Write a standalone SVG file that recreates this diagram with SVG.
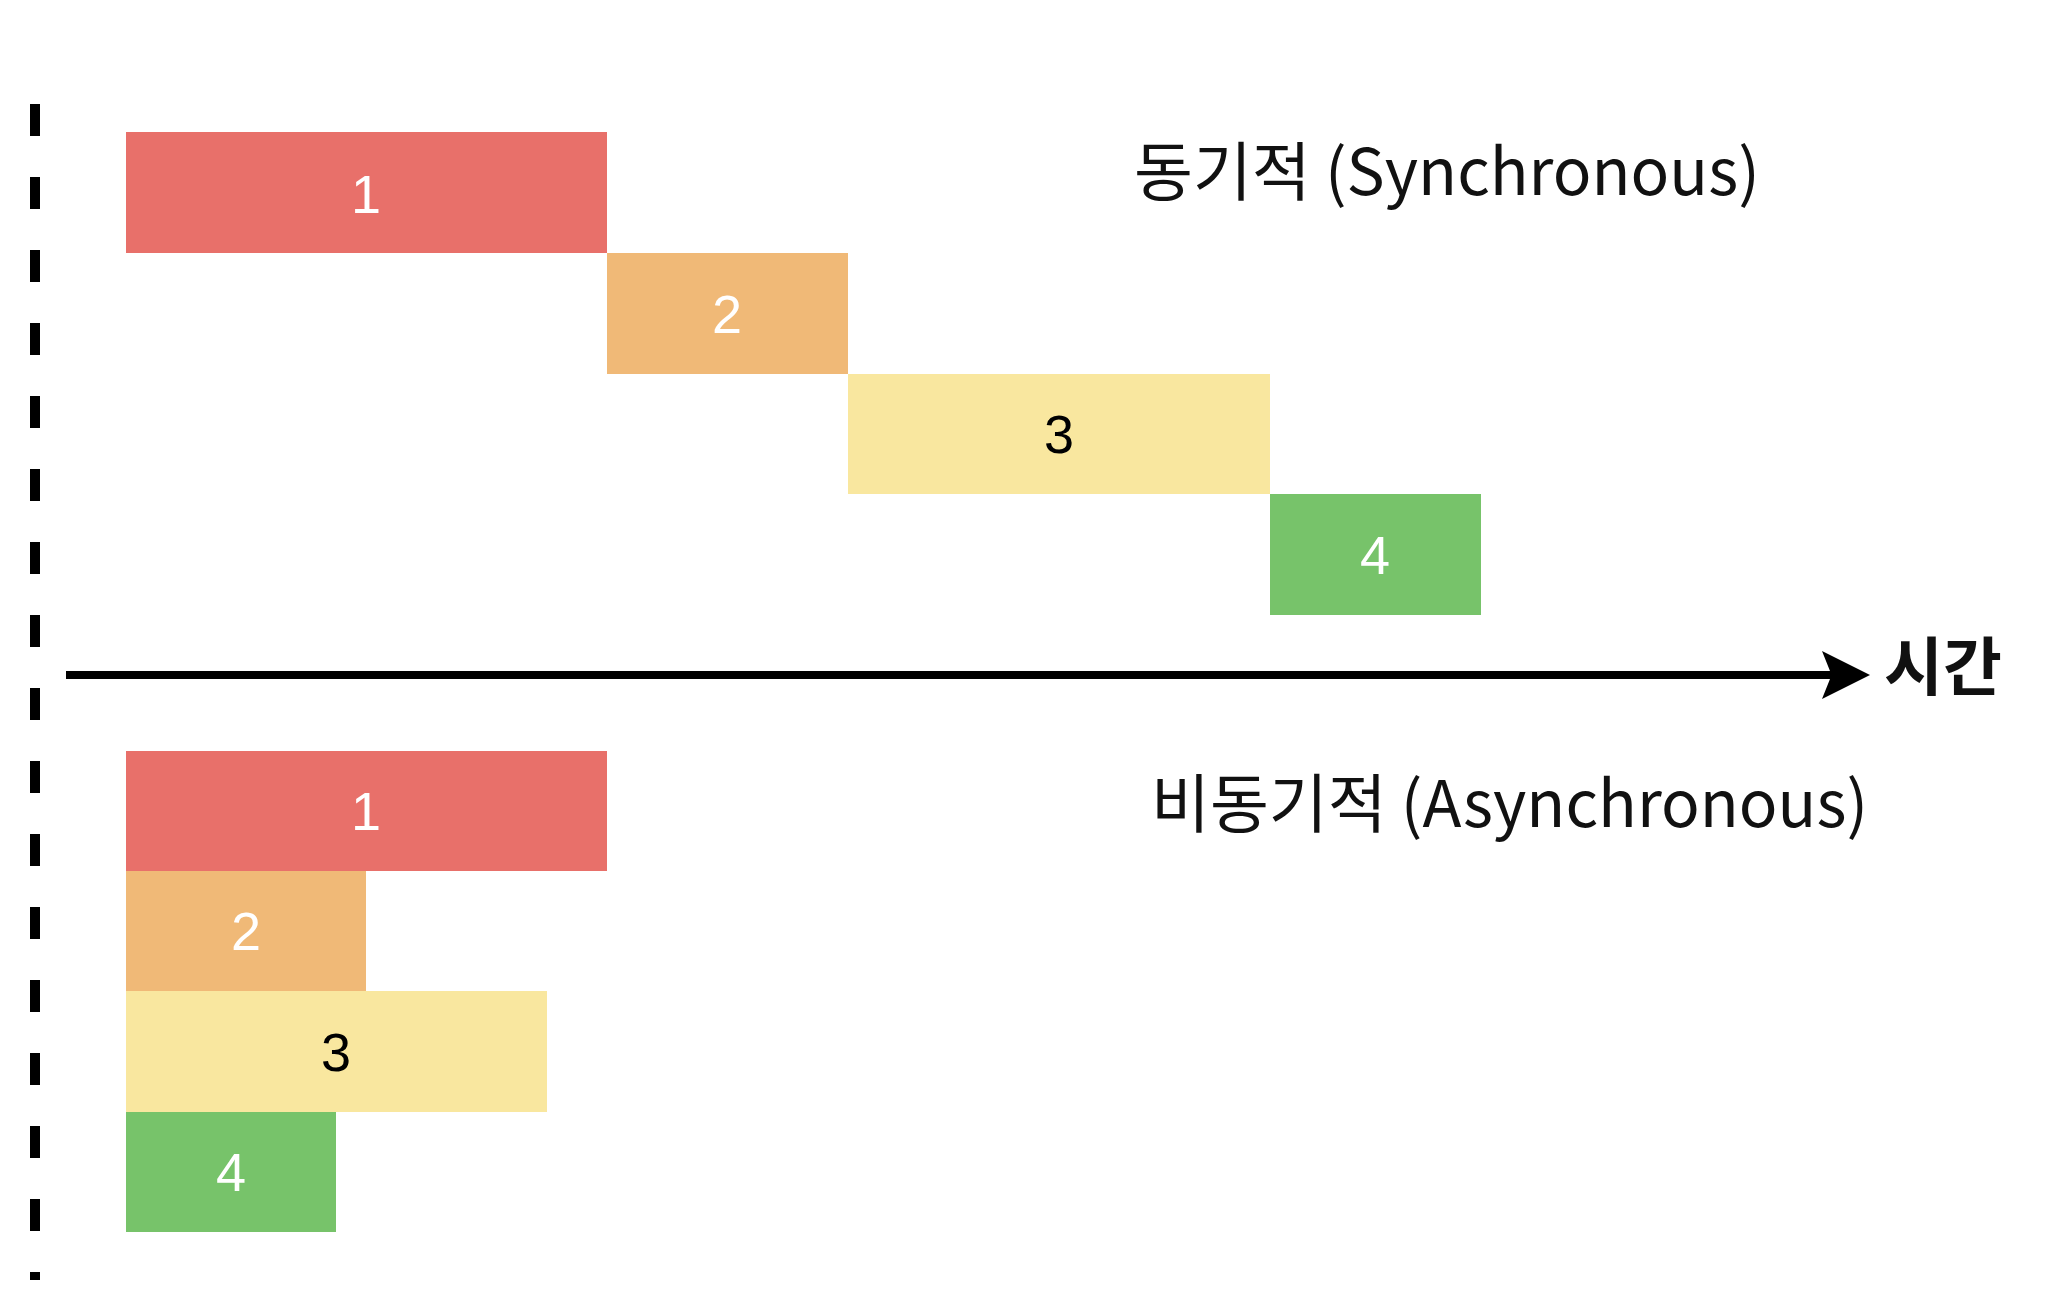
<svg xmlns="http://www.w3.org/2000/svg" width="2046" height="1312" viewBox="0 0 2046 1312">
<style>
.n{font-family:"Liberation Sans",Arial,sans-serif;font-size:54px;text-anchor:middle;dominant-baseline:central}
.w{fill:#fff}.k{fill:#000}
.t{font-family:"Noto Sans CJK KR","Noto Sans",sans-serif;font-size:64px;fill:#111}
.r{fill:#E8706A}.o{fill:#F0B977}.y{fill:#F9E79F}.g{fill:#77C36A}
</style>
<defs><marker id="ah" markerWidth="6" markerHeight="6" refX="5" refY="3" orient="auto" markerUnits="strokeWidth"><path d="M0,0 L6,3 L0,6 L1.2,3 Z" fill="#000"/></marker></defs>
<rect width="2046" height="1312" fill="#fff"/>
<g id="connectors">
<line x1="35" y1="104" x2="35" y2="1280" stroke="#000" stroke-width="10" stroke-dasharray="32 41"/>
<line x1="66" y1="675" x2="1862" y2="675" stroke="#000" stroke-width="8" marker-end="url(#ah)"/>
</g>
<text class="t" x="1884" y="690" font-weight="bold">시간</text>
<text class="t" x="1134" y="195">동기적 (Synchronous)</text>
<text class="t" x="1151" y="827">비동기적 (Asynchronous)</text>
<g id="s1"><rect class="r" x="126" y="132" width="481" height="121"/><text class="n w" x="366" y="194">1</text></g>
<g id="s2"><rect class="o" x="607" y="253" width="241" height="121"/><text class="n w" x="727" y="314">2</text></g>
<g id="s3"><rect class="y" x="848" y="374" width="422" height="120"/><text class="n k" x="1059" y="434">3</text></g>
<g id="s4"><rect class="g" x="1270" y="494" width="211" height="121"/><text class="n w" x="1375" y="555">4</text></g>
<g id="a1"><rect class="r" x="126" y="751" width="481" height="120"/><text class="n w" x="366" y="811">1</text></g>
<g id="a2"><rect class="o" x="126" y="871" width="240" height="120"/><text class="n w" x="246" y="931">2</text></g>
<g id="a3"><rect class="y" x="126" y="991" width="421" height="121"/><text class="n k" x="336" y="1052">3</text></g>
<g id="a4"><rect class="g" x="126" y="1112" width="210" height="120"/><text class="n w" x="231" y="1172">4</text></g>
</svg>
